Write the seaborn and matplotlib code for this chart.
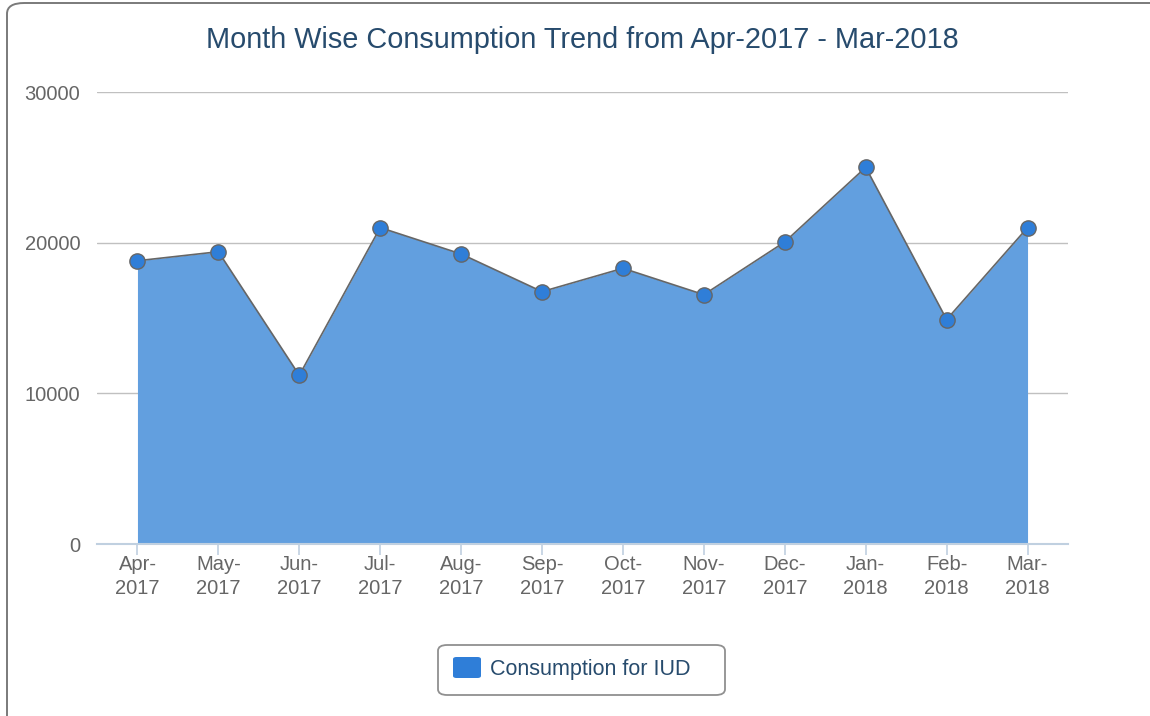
import numpy as np
import pandas as pd
import seaborn as sns
from matplotlib import pyplot as plt
from matplotlib.patches import FancyBboxPatch

# data
months = ["Apr-\n2017", "May-\n2017", "Jun-\n2017", "Jul-\n2017", "Aug-\n2017", "Sep-\n2017",
          "Oct-\n2017", "Nov-\n2017", "Dec-\n2017", "Jan-\n2018", "Feb-\n2018", "Mar-\n2018"]
consumption = [18800, 19400, 11200, 21000, 19250, 16750, 18300, 16550, 20050, 25000, 14900, 21000]
y_ticks = [0, 10000, 20000, 30000]

df = pd.DataFrame({"month": np.arange(len(months)), "consumption": consumption})

sns.set_style("white")
plt.rcParams['font.family'] = ['Liberation Sans', 'DejaVu Sans']

fig = plt.figure(figsize=(11.5, 7.16), dpi=100)
ax = fig.add_axes([97 / 1150, 1 - 544 / 716, (1068 - 97) / 1150, (544 - 92) / 716])

# outer rounded frame (runs off the right and bottom edges)
fig.patches.append(FancyBboxPatch((7 / 1150, -0.05), 1.2, 1.05 - 3 / 716,
                                  boxstyle="round,pad=0,rounding_size=0.015",
                                  transform=fig.transFigure, facecolor='none',
                                  edgecolor='#7a7a7a', linewidth=1.4, zorder=10))

ax.fill_between(df["month"], df["consumption"], 0, color='#629fdf', linewidth=0, zorder=1)
sns.lineplot(data=df, x="month", y="consumption", ax=ax, color='#666666', linewidth=1.2,
             marker='o', markersize=11, markerfacecolor='#2f7ed8', markeredgecolor='#666666',
             markeredgewidth=1.0, zorder=3)

ax.set_xlim(-0.5, len(months) - 0.5)
ax.set_ylim(0, 30000)
ax.set_yticks(y_ticks)
ax.set_yticklabels([str(v) for v in y_ticks])
ax.set_xticks(df["month"])
ax.set_xticklabels(months, linespacing=1.35)
ax.yaxis.grid(True, color='#c0c0c0', linewidth=1.0)
ax.set_axisbelow(True)
for s in ['top', 'right', 'left']:
    ax.spines[s].set_visible(False)
ax.spines['bottom'].set_color('#c0d0e0')
ax.spines['bottom'].set_linewidth(1.5)
ax.tick_params(axis='x', length=8, width=1.2, color='#c0d0e0', labelcolor='#666666',
               labelsize=14.5, pad=0, bottom=True)
ax.tick_params(axis='y', length=0, labelcolor='#666666', labelsize=14.5, pad=12)
ax.set_xlabel("")
ax.set_ylabel("")

fig.text(582 / 1150, 1 - 40 / 716, "Month Wise Consumption Trend from Apr-2017 - Mar-2018",
         ha='center', va='center', fontsize=20.8, color='#274b6d')

# legend
fig.patches.append(FancyBboxPatch((438 / 1150, 1 - 695 / 716), (725 - 438) / 1150, 50 / 716,
                                  boxstyle="round,pad=0,rounding_size=0.008",
                                  transform=fig.transFigure, facecolor='white',
                                  edgecolor='#909090', linewidth=1.3, zorder=10))
fig.patches.append(FancyBboxPatch((453 / 1150, 1 - 678 / 716), 28 / 1150, 21 / 716,
                                  boxstyle="round,pad=0,rounding_size=0.003",
                                  transform=fig.transFigure, facecolor='#2f7ed8',
                                  edgecolor='none', zorder=11))
fig.text(490 / 1150, 1 - 669 / 716, "Consumption for IUD", ha='left', va='center',
         fontsize=15.5, color='#274b6d', zorder=12)

fig.savefig("out.png", dpi=100, facecolor='white')
